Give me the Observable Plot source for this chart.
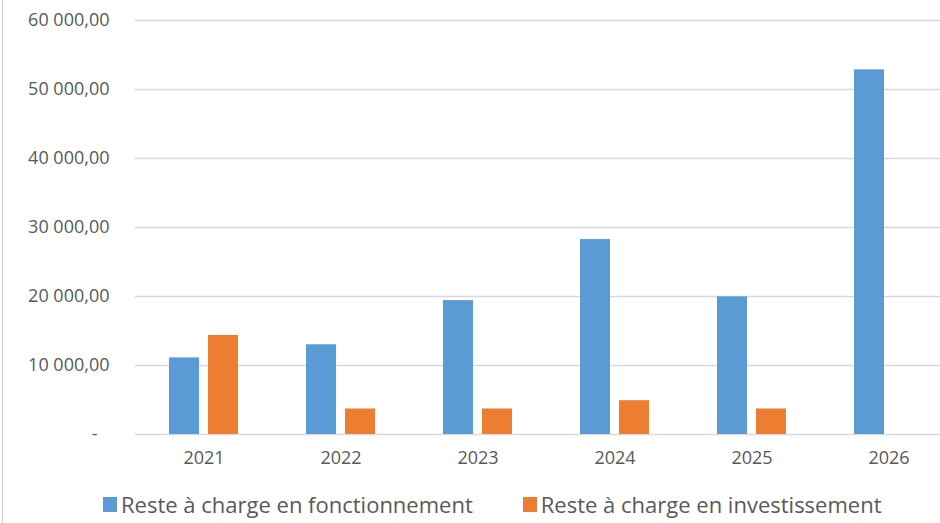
<!DOCTYPE html>
<html>
<head>
<meta charset="utf-8">
<script src="https://cdn.jsdelivr.net/npm/d3@7"></script>
<script src="https://cdn.jsdelivr.net/npm/@observablehq/plot@0.6"></script>
<style>
  html, body { margin: 0; padding: 0; background: #fff; overflow: hidden; }
  #wrap { position: relative; width: 940px; height: 523px; overflow: hidden; }
  #border { position: absolute; left: 2px; top: 0; width: 1px; height: 523px; background: #d0d0d0; }
  #legend { position: absolute; top: 489px; left: 103px; display: flex; align-items: center; font-family: "Open Sans", sans-serif; font-size: 22px; color: #595959; white-space: nowrap; }
  .item { display: flex; align-items: center; margin-right: 50px; }
  .sw { width: 14px; height: 15px; margin-right: 4px; }
</style>
</head>
<body>
<div id="wrap"><div id="border"></div><div id="chart"></div><div id="legend"></div></div>
<script>
const years = ["2021", "2022", "2023", "2024", "2025", "2026"];
const seriesNames = ["Reste à charge en fonctionnement", "Reste à charge en investissement"];
const fonctionnement = [11100, 13000, 19400, 28250, 19950, 52850];
const investissement = [14350, 3700, 3700, 4900, 3700, 0];
const seriesColors = ["#5B9BD5", "#ED7D31"];
const yTicks = [0, 10000, 20000, 30000, 40000, 50000, 60000];

const data = [];
years.forEach((y, i) => {
  data.push({year: y, series: seriesNames[0], value: fonctionnement[i]});
  data.push({year: y, series: seriesNames[1], value: investissement[i]});
});

const loc = d3.formatLocale({decimal: ",", thousands: "\u00a0", grouping: [3]});
const fmt = loc.format(",.2f");
const tickFmt = d => d === 0 ? "-\u2002\u2009" : fmt(d);

const chart = Plot.plot({
  width: 958,
  height: 496,
  marginLeft: 134,
  marginRight: 0,
  marginTop: 20,
  marginBottom: 62,
  style: {maxWidth: "none", fontFamily: "'Open Sans', sans-serif", fontSize: "18px", color: "#595959", background: "transparent"},
  fx: {domain: years, padding: 0, label: null, tickSize: 0, tickPadding: 17, axis: "bottom"},
  x: {domain: seriesNames, axis: null, paddingInner: 0.225, paddingOuter: 0.83},
  y: {domain: [0, 60000], ticks: yTicks, tickFormat: tickFmt, tickSize: 0, tickPadding: 26, label: null},
  color: {domain: seriesNames, range: seriesColors},
  marks: [
    Plot.ruleY(yTicks, {stroke: "#d9d9d9", strokeWidth: 1.5}),
    Plot.barY(data, {fx: "year", x: "series", y: "value", fill: "series"})
  ]
});
document.getElementById("chart").appendChild(chart);

const legend = document.getElementById("legend");
seriesNames.forEach((n, i) => {
  const it = document.createElement("div");
  it.className = "item";
  const sw = document.createElement("div");
  sw.className = "sw";
  sw.style.background = seriesColors[i];
  const t = document.createElement("span");
  t.textContent = n;
  it.appendChild(sw); it.appendChild(t);
  legend.appendChild(it);
});
</script>
</body>
</html>
